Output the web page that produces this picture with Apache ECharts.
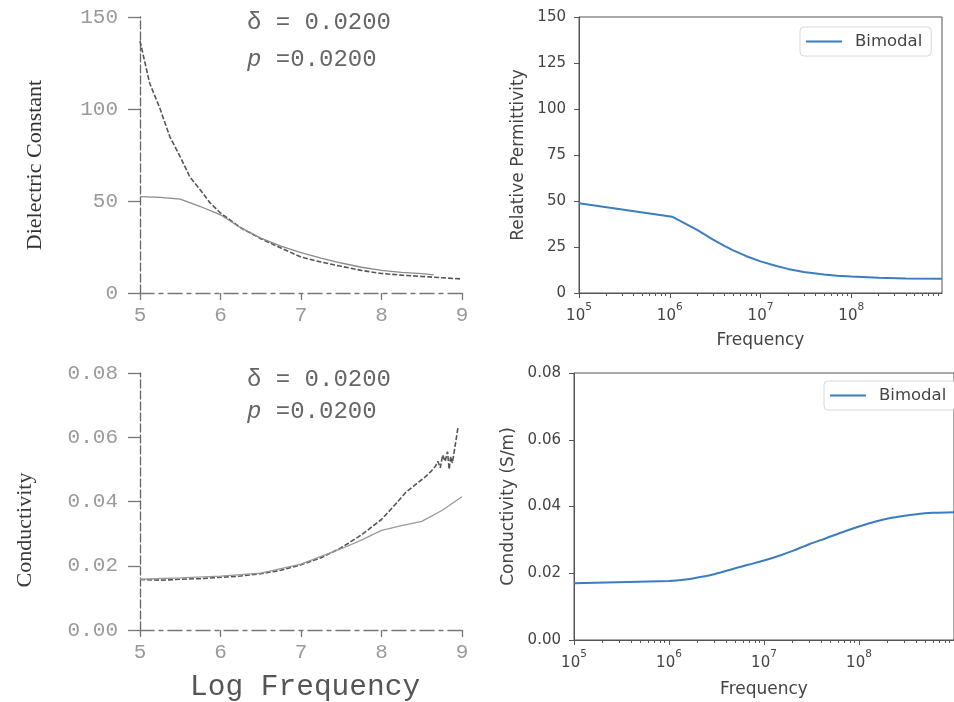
<!DOCTYPE html>
<html>
<head>
<meta charset="utf-8">
<script src="https://cdn.jsdelivr.net/npm/echarts@6/dist/echarts.min.js"></script>
<style>
  html, body { margin: 0; padding: 0; background: #fff; }
  #chart { width: 954px; height: 702px; filter: blur(0.45px); }
</style>
</head>
<body>
<div id="chart"></div>
<script>
// ---------- Left column: plotter curves against log10 frequency ----------
// Dielectric constant, measured (dashed) and model (solid)
const dielMeasLogF = [5.0, 5.12, 5.25, 5.37, 5.5, 5.62, 5.75, 5.87, 6.0, 6.25, 6.5, 6.75, 7.0, 7.25, 7.5, 7.75, 8.0, 8.25, 8.5, 8.75, 9.0];
const dielMeas     = [137, 114, 100, 85, 74, 63, 56, 49, 43.5, 35.5, 29.5, 24.5, 19.5, 16.8, 14.5, 12.3, 10.6, 9.7, 9.0, 8.3, 7.6];
const dielModelLogF = [5.0, 5.25, 5.5, 5.75, 6.0, 6.25, 6.5, 6.75, 7.0, 7.25, 7.5, 7.75, 8.0, 8.25, 8.5, 8.65];
const dielModel     = [52.4, 52, 51, 47, 42.5, 35.5, 29.8, 25.5, 22, 19, 16.3, 14, 12.3, 11.2, 10.5, 9.8];

// Conductivity, measured (dashed, noisy at the top end) and model (solid)
const condMeasLogF = [5.0, 5.25, 5.5, 5.75, 6.0, 6.25, 6.5, 6.75, 7.0, 7.25, 7.5, 7.75, 8.0, 8.15, 8.3, 8.45, 8.55, 8.62, 8.67, 8.7, 8.73, 8.76, 8.79, 8.82, 8.84, 8.86, 8.88, 8.9, 8.95];
const condMeas     = [0.0157, 0.0155, 0.0158, 0.0160, 0.0164, 0.0168, 0.0175, 0.0186, 0.0203, 0.0225, 0.0256, 0.0296, 0.0344, 0.0385, 0.0428, 0.0458, 0.0478, 0.0495, 0.0510, 0.0525, 0.0505, 0.0545, 0.0525, 0.0555, 0.0500, 0.0540, 0.0520, 0.0550, 0.0630];
const condModelLogF = [5.0, 5.5, 6.0, 6.5, 7.0, 7.5, 7.75, 8.0, 8.25, 8.5, 8.75, 9.0];
const condModel     = [0.0158, 0.0162, 0.0168, 0.0177, 0.0205, 0.0253, 0.0280, 0.0310, 0.0325, 0.0338, 0.0372, 0.0415];

// ---------- Right column: bimodal model against frequency (Hz) ----------
const permFreq   = [1e5, 1.06e6, 1.5e6, 2e6, 3e6, 4e6, 5e6, 7e6, 1e7, 1.5e7, 2e7, 3e7, 5e7, 7e7, 1e8, 2e8, 4e8, 1e9];
const permValues = [48.8, 41.5, 37.6, 34.3, 29.0, 25.6, 23.2, 20.0, 17.2, 14.7, 13.1, 11.4, 10.0, 9.4, 9.0, 8.3, 7.9, 7.7];
const sigmaFreq   = [1e5, 1e6, 1.5e6, 2e6, 3e6, 5e6, 7e6, 1e7, 1.5e7, 2e7, 3e7, 4.5e7, 7e7, 1e8, 1.5e8, 2.2e8, 3e8, 4e8, 6e8, 1e9];
const sigmaValues = [0.0170, 0.0177, 0.0181, 0.0187, 0.0197, 0.0215, 0.0226, 0.0238, 0.0254, 0.0267, 0.0287, 0.0305, 0.0325, 0.0340, 0.0355, 0.0366, 0.0372, 0.0377, 0.0381, 0.0383];

// tick labels
const logTickLabels = [1e5, 1e6, 1e7, 1e8];
const logMinorTicks = [];
[1e5, 1e6, 1e7, 1e8].forEach(d => { for (let k = 2; k <= 9; k++) logMinorTicks.push(k * d); });

const zip = (xs, ys) => xs.map((x, i) => [x, ys[i]]);

// ---------- styles ----------
const plotterInk = '#777';
const plotterLabel = { color: '#9a9a9a', fontFamily: 'Liberation Mono', fontSize: 21 };
const mplInk = '#555';
const mplText = '#444';
const mplFont = 'DejaVu Sans';
const bimodalBlue = '#3b7dbf';

function plotterX(grid) {
  return {
    type: 'value', gridIndex: grid, min: 5, max: 9, interval: 1,
    axisLine: { show: true, onZero: false, lineStyle: { color: plotterInk, width: 1.3, type: [14, 5, 4, 5] } },
    axisTick: { show: true, length: 7, lineStyle: { color: plotterInk, width: 1.3 } },
    axisLabel: Object.assign({ margin: 12 }, plotterLabel),
    splitLine: { show: false }
  };
}
function plotterY(grid, max, interval, fmt) {
  return {
    type: 'value', gridIndex: grid, min: 0, max: max, interval: interval,
    axisLine: { show: true, onZero: false, lineStyle: { color: '#666', width: 1.3, type: [8, 3] } },
    axisTick: { show: true, length: 12, lineStyle: { color: plotterInk, width: 1.3 } },
    axisLabel: Object.assign({ margin: 22, formatter: fmt }, plotterLabel),
    splitLine: { show: false }
  };
}
const logLabelRich = {
  b: { fontSize: 15, fontFamily: mplFont, color: mplText, lineHeight: 22, verticalAlign: 'bottom' },
  s: { fontSize: 10.5, fontFamily: mplFont, color: mplText, lineHeight: 22, verticalAlign: 'top' }
};
function logMajorX(grid, nameGap) {
  return {
    type: 'log', logBase: 10, gridIndex: grid, min: 1e5, max: 1e9, position: 'bottom',
    name: 'Frequency', nameLocation: 'middle', nameGap: nameGap,
    nameTextStyle: { color: mplText, fontFamily: mplFont, fontSize: 17 },
    axisLine: { show: true, lineStyle: { color: mplInk, width: 1 } },
    axisTick: { show: true, length: 5, customValues: logTickLabels, lineStyle: { color: mplInk } },
    axisLabel: {
      customValues: logTickLabels, margin: 9,
      formatter: v => '{b|10}{s|' + Math.round(Math.log10(v)) + '}',
      rich: logLabelRich
    },
    splitLine: { show: false }
  };
}
function logMinorX(grid) {
  return {
    type: 'log', logBase: 10, gridIndex: grid, min: 1e5, max: 1e9, position: 'bottom',
    axisLine: { show: false },
    axisTick: { show: true, length: 3, customValues: logMinorTicks, lineStyle: { color: mplInk } },
    axisLabel: { show: false },
    splitLine: { show: false }
  };
}
function mplY(grid, max, interval, name, nameGap, fmt) {
  return {
    type: 'value', gridIndex: grid, min: 0, max: max, interval: interval,
    name: name, nameLocation: 'middle', nameGap: nameGap,
    nameTextStyle: { color: mplText, fontFamily: mplFont, fontSize: 17 },
    axisLine: { show: true, lineStyle: { color: mplInk, width: 1 } },
    axisTick: { show: true, length: 5, lineStyle: { color: mplInk } },
    axisLabel: { color: mplText, fontFamily: mplFont, fontSize: 15, margin: 13, formatter: fmt },
    splitLine: { show: false }
  };
}
function legendBox(left, top) {
  return {
    left: left, top: top, orient: 'horizontal',
    data: [{ name: 'Bimodal', icon: 'rect' }],
    itemWidth: 36, itemHeight: 2,
    padding: [6, 9, 6, 6],
    borderColor: '#d8d8d8', borderWidth: 1, borderRadius: 4,
    backgroundColor: '#fff',
    textStyle: { color: mplText, fontFamily: mplFont, fontSize: 16.5, padding: [0, 0, 0, 8] }
  };
}
function rotatedText(x, y, text, font, fill) {
  return {
    type: 'text', x: x, y: y, rotation: Math.PI / 2,
    style: { text: text, font: font, fill: fill, align: 'center', verticalAlign: 'middle', textAlign: 'center', textVerticalAlign: 'middle' }
  };
}
function plainText(x, y, text, font, fill, rich) {
  return {
    type: 'text', x: x, y: y,
    style: { text: text, font: font, fill: fill, align: 'left', verticalAlign: 'middle', textAlign: 'left', textVerticalAlign: 'middle', rich: rich }
  };
}

const noteFont = '24px "Liberation Mono"';
const noteRich = { i: { fontStyle: 'italic', fontFamily: 'Liberation Mono', fontSize: 24, fill: '#666', color: '#666' } };

const option = {
  animation: false,
  backgroundColor: '#fff',
  grid: [
    { left: 140, top: 17, width: 322, height: 276 },
    { left: 140, top: 373, width: 322, height: 257 },
    { left: 579, top: 17, width: 363, height: 276, show: true, borderColor: mplInk, borderWidth: 1, backgroundColor: 'transparent' },
    { left: 574, top: 373, width: 387, height: 267, show: true, borderColor: mplInk, borderWidth: 1, backgroundColor: 'transparent' }
  ],
  xAxis: [
    plotterX(0),
    plotterX(1),
    logMajorX(2, 39),
    logMajorX(3, 41),
    logMinorX(2),
    logMinorX(3)
  ],
  yAxis: [
    plotterY(0, 150, 50),
    plotterY(1, 0.08, 0.02, v => v.toFixed(2)),
    mplY(2, 150, 25, 'Relative Permittivity', 52),
    mplY(3, 0.08, 0.02, 'Conductivity (S/m)', 57, v => v.toFixed(2))
  ],
  legend: [legendBox(800, 27), legendBox(824, 381)],
  graphic: [
    rotatedText(35, 165, 'Dielectric Constant', '22px "Liberation Serif"', '#333'),
    rotatedText(25, 530, 'Conductivity', '22px "Liberation Serif"', '#3a3a3a'),
    plainText(190, 687, 'Log Frequency', '29.5px "Liberation Mono"', '#555'),
    plainText(247, 23, 'δ = 0.0200', noteFont, '#666'),
    plainText(247, 60, '{i|p} =0.0200', noteFont, '#666', noteRich),
    plainText(247, 380, 'δ = 0.0200', noteFont, '#666'),
    plainText(247, 412, '{i|p} =0.0200', noteFont, '#666', noteRich)
  ],
  series: [
    { name: 'measured ε', type: 'line', xAxisIndex: 0, yAxisIndex: 0, data: zip(dielMeasLogF, dielMeas), symbol: 'none',
      lineStyle: { color: '#555', width: 1.6, type: [5, 2] } },
    { name: 'model ε', type: 'line', xAxisIndex: 0, yAxisIndex: 0, data: zip(dielModelLogF, dielModel), symbol: 'none',
      lineStyle: { color: '#8a8a8a', width: 1.3 } },
    { name: 'measured σ', type: 'line', xAxisIndex: 1, yAxisIndex: 1, data: zip(condMeasLogF, condMeas), symbol: 'none',
      lineStyle: { color: '#555', width: 1.6, type: [5, 2] } },
    { name: 'model σ', type: 'line', xAxisIndex: 1, yAxisIndex: 1, data: zip(condModelLogF, condModel), symbol: 'none',
      lineStyle: { color: '#999', width: 1.3 } },
    { name: 'Bimodal', type: 'line', xAxisIndex: 2, yAxisIndex: 2, data: zip(permFreq, permValues), symbol: 'none',
      itemStyle: { color: bimodalBlue }, lineStyle: { color: bimodalBlue, width: 2 } },
    { name: 'Bimodal', type: 'line', xAxisIndex: 3, yAxisIndex: 3, data: zip(sigmaFreq, sigmaValues), symbol: 'none', smooth: 0.3,
      itemStyle: { color: bimodalBlue }, lineStyle: { color: bimodalBlue, width: 2 } }
  ]
};

const chart = echarts.init(document.getElementById('chart'), null, { renderer: 'canvas' });
chart.setOption(option);
</script>
</body>
</html>
